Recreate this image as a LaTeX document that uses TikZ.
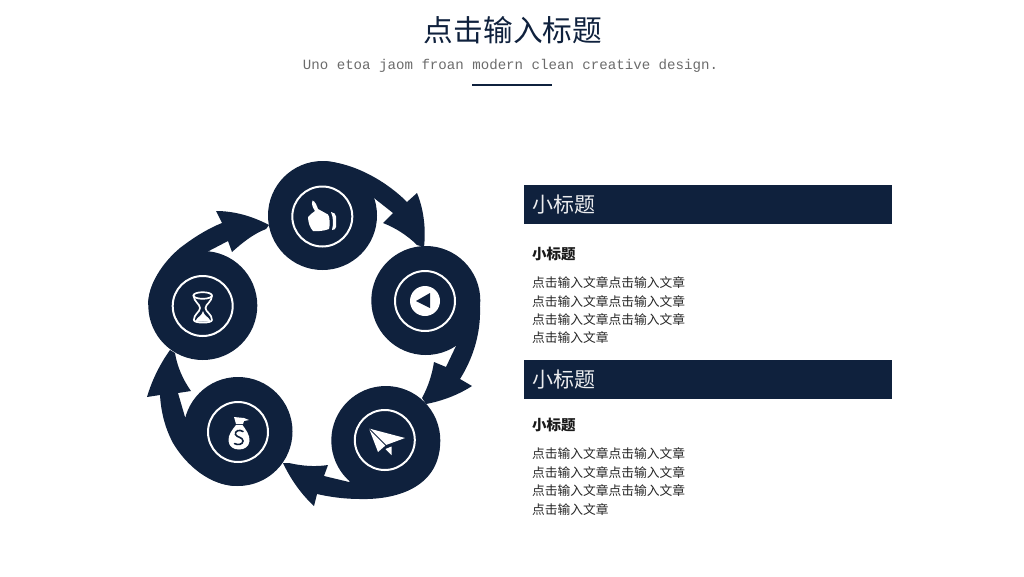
\documentclass[tikz,border=0pt]{standalone}
\usepackage{fontspec}
\newfontfamily\cjk{Noto Sans CJK SC}
\newfontfamily\monof{Liberation Mono}
\definecolor{navy}{HTML}{0F213D}
\tikzset{
 x=1pt,y=-1pt,
 hub/.style={circle,fill=navy,minimum size=109pt,inner sep=0pt},
 ring/.style={draw=white,line width=2pt},
 flow/.style={fill=navy,draw=none},
 ico/.style={fill=white,draw=none},
 icoline/.style={draw=white,line width=1.7pt,line join=round,line cap=round},
 barbox/.style={fill=navy,draw=none,minimum width=368pt,minimum height=39pt,inner sep=0pt,anchor=north west},
 bartext/.style={text=white!92!navy,anchor=west,inner sep=0pt,font=\cjk\fontsize{21}{21}\selectfont},
 subhead/.style={text=black!90,anchor=west,inner sep=0pt,font=\cjk\bfseries\fontsize{14.5}{14.5}\selectfont},
 bodyline/.style={text=black!85,anchor=west,inner sep=0pt,font=\cjk\fontsize{12.75}{12.75}\selectfont},
}
\begin{document}
\begin{tikzpicture}
\useasboundingbox (0,0) rectangle (1024,576);
% heading
\node[inner sep=0pt,text=navy,font=\cjk\fontsize{29.7}{30}\selectfont] (title) at (513,30) {点击输入标题};
\node[inner sep=0pt,text=black!58,font=\monof\fontsize{14.12}{15}\selectfont] (subtitle) at (510.5,66) {Uno etoa jaom froan modern clean creative design.};
\fill[navy] (472,84) rectangle (552,86);
% arrows
\fill[flow] (322,161) .. controls (352,162) and (385,180) .. (407,202) -- (417,193)
  .. controls (424,210) and (426,230) .. (424,247) -- (417,245)
  .. controls (408,236) and (396,228) .. (383,223) -- (393,213) -- (374,198) -- (340,230) -- cycle;
\fill[flow] (480,307) .. controls (481,335) and (472,360) .. (460,379) -- (472,386)
  .. controls (458,395) and (442,401) .. (426,404) -- (422,398)
  .. controls (428,387) and (432,375) .. (434,362) -- (446,367) -- (456,346) -- (430,320) -- cycle;
\fill[flow] (440,442) .. controls (440,485) and (400,500) .. (360,499)
  .. controls (345,499) and (330,497) .. (317,494) -- (314,506)
  .. controls (302,495) and (291,480) .. (283,463) -- (289,463)
  .. controls (302,466) and (315,467) .. (328,465) -- (324,476) -- (349,482) -- (400,440) -- cycle;
\fill[flow] (237,486) .. controls (210,486) and (186,465) .. (173,443)
  .. controls (165,428) and (161,412) .. (160,395) -- (147,397)
  .. controls (152,380) and (160,364) .. (170,350) -- (175,353)
  .. controls (177,366) and (183,380) .. (191,391) -- (178,393) -- (185,417) -- (240,440) -- cycle;
\fill[flow] (148,305) .. controls (148,285) and (162,263) .. (180,248)
  .. controls (193,238) and (207,229) .. (222,223) -- (216,211)
  .. controls (234,211) and (252,216) .. (269,225) -- (266,229)
  .. controls (253,234) and (242,243) .. (232,252) -- (228,241) -- (205,253) -- (200,300) -- cycle;
% hubs
\node[hub] (thumb) at (322.5,215.5) {};
\node[hub] (play) at (425.8,300.5) {};
\node[hub] (plane) at (385.8,440.5) {};
\node[hub] (bag) at (238,431.5) {};
\node[hub] (glass) at (202.8,305.5) {};
\draw[ring] (322.3,216.5) circle (30);
\draw[ring] (425,301) circle (30);
\draw[ring] (384.8,440) circle (30);
\draw[ring] (238,432) circle (30);
\draw[ring] (202.7,306) circle (30);
% thumb icon
\fill[ico] (312.5,200.5) .. controls (315,201) and (317,206) .. (318,209)
  -- (328,214.5) .. controls (330,216) and (330,226) .. (329,229)
  .. controls (324,231) and (317,231.5) .. (313,231)
  .. controls (310,228) and (308,222) .. (308,217)
  .. controls (310,214) and (313,213) .. (315,211)
  .. controls (313,208) and (311,204) .. (312.5,200.5) -- cycle;
\fill[ico] (331,212) .. controls (334,212.5) and (336,214) .. (336,216.5) -- (336,227) .. controls (336,229) and (334,230) .. (332,230)
  .. controls (333.5,224) and (333.5,218) .. (331,212) -- cycle;
% play icon
\fill[ico] (425,301) circle (15);
\fill[navy] (416,301) -- (430,293) -- (430,308) -- cycle;
% plane icon
\fill[ico] (369,428.5) -- (405,438) -- (386,445) -- (378,452) -- cycle;
\draw[navy,line width=0.9pt] (369,428.5) -- (386,445.5);
\fill[ico] (385.5,449) -- (391.5,446.5) -- (391.5,455) -- cycle;
% bag icon
\fill[ico] (234,417) -- (244,418) -- (249,420) -- (244,421) -- (243,424) -- (236,424) -- cycle;
\fill[ico] (236,425) -- (242.5,425) .. controls (246,430) and (250,435) .. (249.5,441)
  .. controls (249,447) and (244,449.5) .. (239,449.5)
  .. controls (234,449.5) and (229,447) .. (228.5,441) .. controls (228,435) and (232,430) .. (236,425) -- cycle;
\draw[navy,line width=1.6pt,line cap=round] (243,431.5) .. controls (239.5,429) and (234.5,431) .. (235.5,434.5) .. controls (236.5,437.5) and (243,437) .. (243,441) .. controls (243,444.5) and (237.5,445.5) .. (234.5,443.5);
% hourglass icon
\draw[icoline] (202.7,295.5) ellipse (9.3 and 3.3);
\draw[icoline] (193.5,295.5) .. controls (194,302) and (200,304) .. (200,308) .. controls (200,312) and (194,314) .. (193.8,320) .. controls (194,323.5) and (212,323.5) .. (212,320) .. controls (212,314) and (205.5,312) .. (205.5,308) .. controls (205.5,304) and (212,302) .. (212,295.5);
\fill[ico] (195,321.5) .. controls (198,316) and (202,316) .. (203,311) .. controls (204,316) and (208,316) .. (211,321.5) -- cycle;
% right column
\node[barbox] (bar1) at (524,185) {};
\node[bartext] (bar1t) at (532,204.5) {小标题};
\node[subhead] (h1) at (532,254) {小标题};
\node[bodyline] (a1) at (532,282.5) {点击输入文章点击输入文章};
\node[bodyline] (a2) at (532,301.5) {点击输入文章点击输入文章};
\node[bodyline] (a3) at (532,319.5) {点击输入文章点击输入文章};
\node[bodyline] (a4) at (532,337.5) {点击输入文章};
\node[barbox] (bar2) at (524,360) {};
\node[bartext] (bar2t) at (532,379.5) {小标题};
\node[subhead] (h2) at (532,425) {小标题};
\node[bodyline] (b1) at (532,453.5) {点击输入文章点击输入文章};
\node[bodyline] (b2) at (532,472.5) {点击输入文章点击输入文章};
\node[bodyline] (b3) at (532,490.5) {点击输入文章点击输入文章};
\node[bodyline] (b4) at (532,509.5) {点击输入文章};
\end{tikzpicture}
\end{document}
